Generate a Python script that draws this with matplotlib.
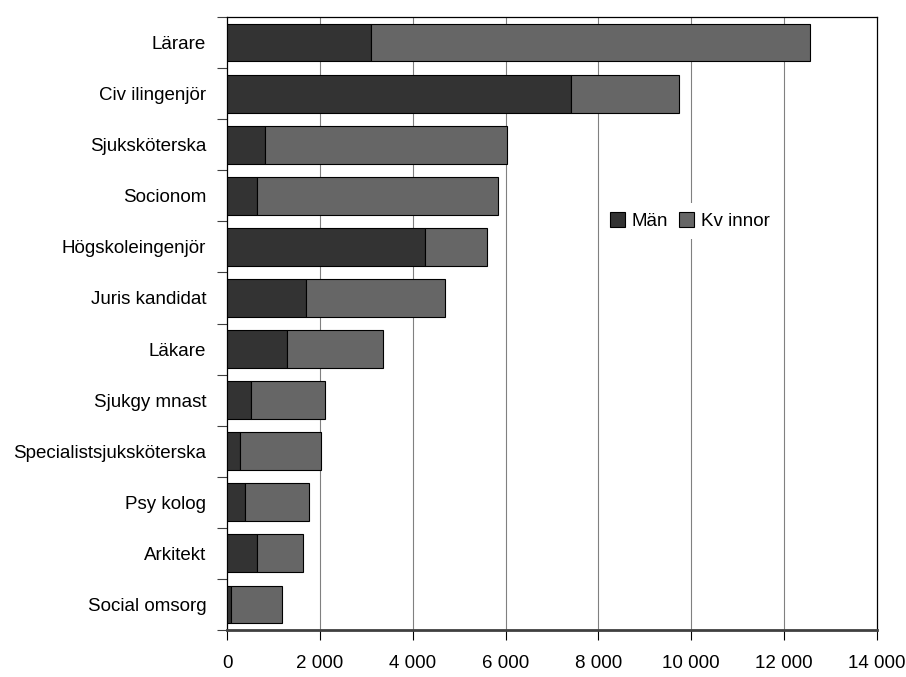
import numpy as np
import matplotlib
matplotlib.use("Agg")
import matplotlib.pyplot as plt
from matplotlib.ticker import FixedLocator, FuncFormatter

plt.rcParams['font.family'] = ['Liberation Sans', 'DejaVu Sans']

# data (number of graduates)
categories = ["Lärare", "Civ ilingenjör", "Sjuksköterska", "Socionom",
              "Högskoleingenjör", "Juris kandidat", "Läkare", "Sjukgy mnast",
              "Specialistsjuksköterska", "Psy kolog", "Arkitekt", "Social omsorg"]
man = [3105, 7400, 820, 650, 4260, 1690, 1300, 520, 270, 390, 650, 90]
totals = [12560, 9725, 6020, 5845, 5595, 4700, 3365, 2115, 2030, 1770, 1640, 1175]
kvinnor = [t - m for t, m in zip(totals, man)]
series_names = ["Män", "Kv innor"]
xticks = [0, 2000, 4000, 6000, 8000, 10000, 12000, 14000]

fs = 13.5

fig = plt.figure(figsize=(9.06, 6.77), dpi=100)
ax = fig.add_axes([0.2506, 0.0694, 0.7174, 0.9055])

y = np.arange(len(categories))
h = 0.74
ax.barh(y, man, height=h, color="#333333", edgecolor="black", linewidth=0.8,
        label=series_names[0], zorder=3)
ax.barh(y, kvinnor, left=man, height=h, color="#666666", edgecolor="black",
        linewidth=0.8, label=series_names[1], zorder=3)

ax.set_xlim(0, 14000)
ax.set_ylim(len(categories) - 0.5, -0.5)

ax.set_xticks(xticks)
ax.xaxis.set_major_formatter(FuncFormatter(lambda v, p: f"{int(v):,}".replace(",", " ")))
ax.tick_params(axis="x", length=7, width=0.8, pad=11, labelsize=fs, direction="out")
for xv in xticks[1:-1]:
    ax.axvline(xv, color="#808080", linewidth=0.8, zorder=1)

ax.set_yticks(y)
ax.set_yticklabels(categories)
ax.yaxis.set_minor_locator(FixedLocator(np.arange(-0.5, len(categories), 1.0)))
ax.tick_params(axis="y", which="major", length=0, pad=15, labelsize=fs)
ax.tick_params(axis="y", which="minor", length=7, width=0.8, color="#404040")

for s in ["top", "right", "left"]:
    ax.spines[s].set_linewidth(0.9)
    ax.spines[s].set_color("black")
ax.spines["bottom"].set_linewidth(2.0)
ax.spines["bottom"].set_color("#404040")

leg = ax.legend(loc="center", bbox_to_anchor=(0.712, 0.667), ncol=2, frameon=True,
                fontsize=fs, handlelength=0.8, handleheight=0.8, handletextpad=0.35,
                columnspacing=0.6, borderpad=0.5, fancybox=False)
leg.get_frame().set_edgecolor("none")
leg.get_frame().set_facecolor("white")
leg.get_frame().set_alpha(1.0)
leg.set_zorder(5)

fig.savefig("out.png", dpi=100)
